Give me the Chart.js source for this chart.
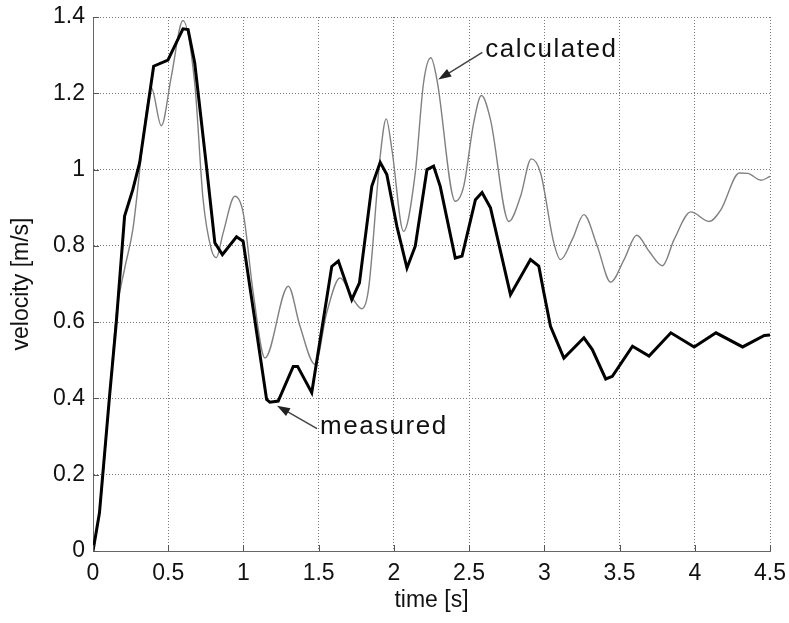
<!DOCTYPE html>
<html>
<head>
<meta charset="utf-8">
<script src="https://cdn.jsdelivr.net/npm/chart.js@4.4.1/dist/chart.umd.min.js"></script>
<style>
  html, body { margin: 0; padding: 0; background: #fff; }
</style>
</head>
<body>
<canvas id="grafico" width="789" height="623"></canvas>
<script>
// Dados (tempo em s, velocidade em m/s)
const tempoMedido = [0, 0.043, 0.11, 0.155, 0.21, 0.265, 0.31, 0.403, 0.498, 0.598, 0.632, 0.676, 0.754, 0.81, 0.86, 0.954, 0.998,
  1.154, 1.176, 1.231, 1.331, 1.36, 1.454, 1.587, 1.631, 1.72, 1.771, 1.853, 1.909, 1.953, 2.02, 2.087, 2.142, 2.22, 2.264, 2.308,
  2.408, 2.453, 2.542, 2.586, 2.642, 2.775, 2.908, 2.963, 2.997, 3.041, 3.13, 3.263, 3.319, 3.408, 3.452, 3.586, 3.696, 3.841,
  3.996, 4.141, 4.318, 4.462, 4.5];
const velMedida = [0, 0.10, 0.406, 0.60, 0.878, 0.948, 1.018, 1.271, 1.287, 1.369, 1.367, 1.28, 1.009, 0.808, 0.777, 0.824, 0.812,
  0.397, 0.39, 0.393, 0.484, 0.484, 0.415, 0.746, 0.76, 0.659, 0.703, 0.956, 1.019, 0.987, 0.851, 0.742, 0.799, 1.0, 1.009, 0.956,
  0.768, 0.773, 0.921, 0.94, 0.9, 0.672, 0.764, 0.747, 0.677, 0.589, 0.506, 0.559, 0.528, 0.451, 0.458, 0.537, 0.511, 0.572,
  0.535, 0.572, 0.535, 0.565, 0.566];

const tempoCalculado = [0, 0.043, 0.11, 0.155, 0.21, 0.265, 0.354, 0.388, 0.454, 0.521, 0.598, 0.676, 0.732, 0.787, 0.82, 0.865,
  0.943, 0.998, 1.065, 1.143, 1.298, 1.376, 1.476, 1.553, 1.642, 1.731, 1.787, 1.831, 1.909, 1.949, 1.987, 2.064, 2.142, 2.197,
  2.246, 2.286, 2.408, 2.464, 2.53, 2.582, 2.642, 2.764, 2.842, 2.913, 2.975, 3.063, 3.108, 3.186, 3.263, 3.352, 3.441, 3.53,
  3.614, 3.696, 3.785, 3.863, 3.974, 4.096, 4.174, 4.296, 4.352, 4.44, 4.5];
const velCalculada = [0, 0.10, 0.406, 0.62, 0.74, 0.843, 1.149, 1.214, 1.115, 1.245, 1.391, 1.227, 0.921, 0.79, 0.769, 0.834,
  0.93, 0.887, 0.677, 0.506, 0.694, 0.589, 0.489, 0.624, 0.716, 0.659, 0.635, 0.685, 1.035, 1.133, 1.052, 0.838, 0.991, 1.227,
  1.293, 1.236, 0.917, 0.956, 1.122, 1.194, 1.131, 0.864, 0.93, 1.028, 0.991, 0.808, 0.764, 0.817, 0.882, 0.799, 0.705, 0.764,
  0.828, 0.786, 0.748, 0.817, 0.889, 0.864, 0.895, 0.991, 0.99, 0.972, 0.982];

const ticksX = [0, 0.5, 1, 1.5, 2, 2.5, 3, 3.5, 4, 4.5];
const ticksY = [0, 0.2, 0.4, 0.6, 0.8, 1, 1.2, 1.4];

// Textos com seta (coordenadas nos eixos do gráfico)
const rotulos = [
  { texto: "calculated", em: [2.608, 1.315], de: [2.588, 1.307], para: [2.295, 1.236] },
  { texto: "measured", em: [1.509, 0.326], de: [1.489, 0.321], para: [1.223, 0.381] }
];

const pontos = (xs, ys) => xs.map((t, i) => ({ x: t, y: ys[i] }));

// Marcas internas nos eixos + setas e textos
const extras = {
  id: "extras",
  afterDatasetsDraw(chart) {
    const { ctx, scales: { x, y } } = chart;
    ctx.save();
    ctx.strokeStyle = "#555";
    ctx.lineWidth = 1;
    ticksX.forEach(v => {
      const px = Math.round(x.getPixelForValue(v)) + 0.5;
      ctx.beginPath();
      ctx.moveTo(px, y.bottom);
      ctx.lineTo(px, y.bottom - 6);
      ctx.stroke();
    });
    ticksY.forEach(v => {
      const py = Math.round(y.getPixelForValue(v)) + 0.5;
      ctx.beginPath();
      ctx.moveTo(x.left, py);
      ctx.lineTo(x.left + 6, py);
      ctx.stroke();
    });

    rotulos.forEach(r => {
      const x0 = x.getPixelForValue(r.de[0]), y0 = y.getPixelForValue(r.de[1]);
      const x1 = x.getPixelForValue(r.para[0]), y1 = y.getPixelForValue(r.para[1]);
      const ang = Math.atan2(y1 - y0, x1 - x0);
      ctx.strokeStyle = "#444";
      ctx.lineWidth = 1.5;
      ctx.beginPath();
      ctx.moveTo(x0, y0);
      ctx.lineTo(x1 - 10 * Math.cos(ang), y1 - 10 * Math.sin(ang));
      ctx.stroke();
      ctx.fillStyle = "#222";
      ctx.beginPath();
      ctx.moveTo(x1, y1);
      ctx.lineTo(x1 - 13 * Math.cos(ang) + 4.5 * Math.sin(ang), y1 - 13 * Math.sin(ang) - 4.5 * Math.cos(ang));
      ctx.lineTo(x1 - 13 * Math.cos(ang) - 4.5 * Math.sin(ang), y1 - 13 * Math.sin(ang) + 4.5 * Math.cos(ang));
      ctx.closePath();
      ctx.fill();

      ctx.fillStyle = "#111";
      ctx.font = "26px 'Liberation Sans', Arial, sans-serif";
      ctx.letterSpacing = "1.5px";
      ctx.textAlign = "left";
      ctx.textBaseline = "middle";
      ctx.fillText(r.texto, x.getPixelForValue(r.em[0]), y.getPixelForValue(r.em[1]));
    });
    ctx.restore();
  }
};

const fonteEixo = { family: "'Liberation Sans', Arial, sans-serif", size: 23 };
const grade = { color: "#7a7a7a", lineWidth: 1, drawTicks: false };

new Chart(document.getElementById("grafico"), {
  type: "line",
  data: {
    datasets: [
      {
        label: "measured",
        data: pontos(tempoMedido, velMedida),
        borderColor: "#000",
        borderWidth: 3,
        pointRadius: 0,
        tension: 0,
        order: 1
      },
      {
        label: "calculated",
        data: pontos(tempoCalculado, velCalculada),
        borderColor: "#808080",
        borderWidth: 1.4,
        pointRadius: 0,
        cubicInterpolationMode: "monotone",
        order: 2
      }
    ]
  },
  options: {
    responsive: false,
    animation: false,
    layout: { padding: { top: 17, right: 19, bottom: 0, left: 0 } },
    plugins: {
      legend: { display: false },
      tooltip: { enabled: false }
    },
    scales: {
      x: {
        type: "linear",
        min: 0,
        max: 4.5,
        afterBuildTicks: s => { s.ticks = ticksX.map(v => ({ value: v })); },
        afterFit: s => { s.height = 72; s.paddingLeft = 0; s.paddingRight = 0; },
        ticks: { color: "#111", font: fonteEixo, padding: 9, maxRotation: 0, callback: v => String(v) },
        grid: grade,
        border: { display: true, color: "#666", dash: [1, 2] },
        title: { display: true, text: "time [s]", color: "#111", font: fonteEixo, padding: { top: 2, bottom: 9 } }
      },
      y: {
        min: 0,
        max: 1.4,
        afterBuildTicks: s => { s.ticks = ticksY.map(v => ({ value: v })); },
        afterFit: s => { s.width = 93; s.paddingTop = 0; s.paddingBottom = 0; },
        ticks: { color: "#111", font: fonteEixo, padding: 8, callback: v => String(v) },
        grid: grade,
        border: { display: true, color: "#666", dash: [1, 2] },
        title: { display: true, text: "velocity [m/s]", color: "#111", font: fonteEixo, padding: { top: 8, bottom: 0 } }
      }
    }
  },
  plugins: [extras]
});
</script>
</body>
</html>
